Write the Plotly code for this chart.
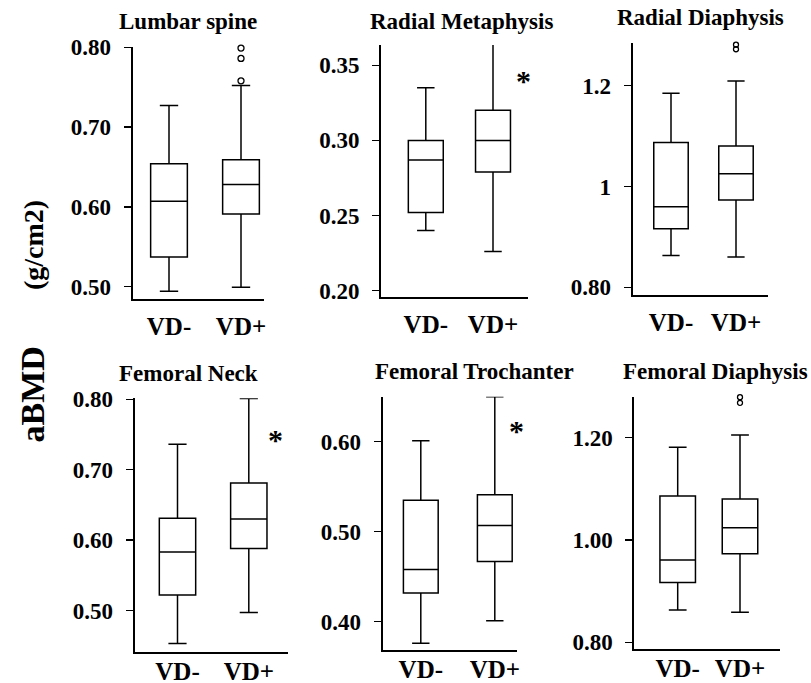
import plotly.graph_objects as go

W, H = 811, 683

# ---------------- data ----------------
categories = ["VD-", "VD+"]
titles = ["Lumbar spine", "Radial Metaphysis", "Radial Diaphysis",
          "Femoral Neck", "Femoral Trochanter", "Femoral Diaphysis"]

# box statistics: [lower whisker, Q1, median, Q3, upper whisker]
lumbar_vd_neg = [0.494, 0.537, 0.607, 0.654, 0.727]
lumbar_vd_pos = [0.499, 0.591, 0.628, 0.659, 0.752]
lumbar_outliers_pos = [0.758, 0.786, 0.799]

radmeta_vd_neg = [0.240, 0.252, 0.287, 0.300, 0.335]
radmeta_vd_pos = [0.226, 0.279, 0.300, 0.320, 0.364]
radmeta_outliers_pos = []

raddia_vd_neg = [0.863, 0.916, 0.960, 1.087, 1.185]
raddia_vd_pos = [0.860, 0.973, 1.025, 1.080, 1.209]
raddia_outliers_pos = [1.272, 1.281]

femneck_vd_neg = [0.453, 0.522, 0.583, 0.631, 0.736]
femneck_vd_pos = [0.497, 0.588, 0.630, 0.681, 0.801]
femneck_outliers_pos = []

femtroch_vd_neg = [0.376, 0.432, 0.458, 0.535, 0.601]
femtroch_vd_pos = [0.401, 0.467, 0.507, 0.541, 0.650]
femtroch_outliers_pos = []

femdia_vd_neg = [0.863, 0.917, 0.961, 1.086, 1.181]
femdia_vd_pos = [0.859, 0.973, 1.024, 1.080, 1.205]
femdia_outliers_pos = [1.268, 1.279]

ytick_vals = [
    [0.50, 0.60, 0.70, 0.80],
    [0.20, 0.25, 0.30, 0.35],
    [0.80, 1.00, 1.20],
    [0.50, 0.60, 0.70, 0.80],
    [0.40, 0.50, 0.60],
    [0.80, 1.00, 1.20],
]
ytick_text = [
    ["0.50", "0.60", "0.70", "0.80"],
    ["0.20", "0.25", "0.30", "0.35"],
    ["0.80", "1", "1.2"],
    ["0.50", "0.60", "0.70", "0.80"],
    ["0.40", "0.50", "0.60"],
    ["0.80", "1.00", "1.20"],
]
significant = [False, True, False, True, True, False]

stats_neg = [lumbar_vd_neg, radmeta_vd_neg, raddia_vd_neg, femneck_vd_neg, femtroch_vd_neg, femdia_vd_neg]
stats_pos = [lumbar_vd_pos, radmeta_vd_pos, raddia_vd_pos, femneck_vd_pos, femtroch_vd_pos, femdia_vd_pos]
outliers_pos = [lumbar_outliers_pos, radmeta_outliers_pos, raddia_outliers_pos,
                femneck_outliers_pos, femtroch_outliers_pos, femdia_outliers_pos]

xpos = list(range(len(categories)))

# ---------------- layout geometry (pixels) ----------------
geom = [
    dict(left=132.7, right=264.0, top=46.5, bottom=299.3, c0=169.0, c1=241.0, yr=[0.484, 0.801], bw=0.51,
         title=(187.7, 21.7), star=None, osize=6, xso=4),
    dict(left=381.0, right=528.0, top=45.0, bottom=296.7, c0=425.8, c1=493.0, yr=[0.196, 0.3635], bw=0.52,
         title=(461.0, 21.7), star=(523.3, 80.0), osize=6, xso=4),
    dict(left=632.7, right=767.7, top=42.7, bottom=294.7, c0=671.0, c1=736.0, yr=[0.7855, 1.285], bw=0.53,
         title=(700.0, 17.0), star=None, osize=5, xso=4),
    dict(left=134.7, right=288.3, top=398.3, bottom=652.0, c0=177.5, c1=248.8, yr=[0.441, 0.8014], bw=0.51,
         title=(188.0, 373.3), star=(275.0, 439.0), osize=6, xso=-4),
    dict(left=382.7, right=516.7, top=396.7, bottom=650.0, c0=420.8, c1=494.8, yr=[0.3686, 0.65], bw=0.47,
         title=(474.0, 371.7), star=(516.7, 430.0), osize=6, xso=-4),
    dict(left=634.3, right=780.0, top=396.7, bottom=649.0, c0=677.7, c1=740.0, yr=[0.787, 1.280], bw=0.57,
         title=(715.0, 371.7), star=None, osize=5, xso=-4),
]

FONT = "Liberation Serif, Times New Roman, serif"

def px(x):
    return x / W

def py(y):
    return 1 - y / H

fig = go.Figure()
layout = dict(
    template="none",
    width=W, height=H, autosize=False,
    margin=dict(l=0, r=0, t=0, b=0, pad=0, autoexpand=False),
    paper_bgcolor="white", plot_bgcolor="white",
    showlegend=False,
    font=dict(family=FONT, color="black"),
)
annotations = []

for i in range(6):
    g = geom[i]
    ax = "" if i == 0 else str(i + 1)
    xref, yref = "x" + ax, "y" + ax
    neg, pos = stats_neg[i], stats_pos[i]
    fig.add_trace(go.Box(
        x=xpos,
        lowerfence=[neg[0], pos[0]],
        q1=[neg[1], pos[1]],
        median=[neg[2], pos[2]],
        q3=[neg[3], pos[3]],
        upperfence=[neg[4], pos[4]],
        width=g["bw"],
        whiskerwidth=0.5,
        fillcolor="white",
        line=dict(color="black", width=1.5),
        boxpoints=False,
        hoverinfo="skip",
        xaxis=xref, yaxis=yref,
    ))
    if outliers_pos[i]:
        fig.add_trace(go.Scatter(
            x=[xpos[1]] * len(outliers_pos[i]),
            y=outliers_pos[i],
            mode="markers",
            marker=dict(symbol="circle-open", size=g["osize"], color="black", line=dict(width=1.3)),
            cliponaxis=False,
            hoverinfo="skip",
            xaxis=xref, yaxis=yref,
        ))
    span = g["c1"] - g["c0"]
    xr = [(g["left"] - g["c0"]) / span, (g["right"] - g["c0"]) / span]
    layout["xaxis" + ax] = dict(
        domain=[px(g["left"]), px(g["right"])],
        anchor=yref, type="linear", range=xr, automargin=False,
        tickvals=xpos, ticktext=categories,
        showline=True, linecolor="black", linewidth=2,
        ticks="", showgrid=False, zeroline=False,
        tickfont=dict(family=FONT, size=25, color="black", weight="bold"),
        ticklabelstandoff=g["xso"],
    )
    layout["yaxis" + ax] = dict(
        domain=[py(g["bottom"]), py(g["top"])],
        anchor=xref, range=g["yr"], automargin=False,
        tickvals=ytick_vals[i], ticktext=ytick_text[i],
        showline=True, linecolor="black", linewidth=2,
        ticks="outside", ticklen=7, tickwidth=1.5, tickcolor="black",
        showgrid=False, zeroline=False,
        tickfont=dict(family=FONT, size=23, color="black", weight="bold"),
        ticklabelstandoff=8,
    )
    tx, ty = g["title"]
    annotations.append(dict(
        text=titles[i], x=px(tx), y=py(ty), xref="paper", yref="paper",
        xanchor="center", yanchor="middle", showarrow=False,
        font=dict(family=FONT, size=23, color="black", weight="bold"),
    ))
    if significant[i] and g["star"]:
        sx, sy = g["star"]
        annotations.append(dict(
            text="*", x=px(sx), y=py(sy), xref="paper", yref="paper",
            xanchor="center", yanchor="middle", showarrow=False,
            font=dict(family=FONT, size=30, color="black", weight="bold"),
        ))

annotations.append(dict(
    text="(g/cm2)", x=px(33), y=py(245), xref="paper", yref="paper", textangle=-90,
    xanchor="center", yanchor="middle", showarrow=False,
    font=dict(family=FONT, size=28, color="black", weight="bold"),
))
annotations.append(dict(
    text="aBMD", x=px(32), y=py(394.5), xref="paper", yref="paper", textangle=-90,
    xanchor="center", yanchor="middle", showarrow=False,
    font=dict(family=FONT, size=34, color="black", weight="bold"),
))
layout["annotations"] = annotations
fig.update_layout(**layout)
fig.write_html(
    "out.html",
    config={"displayModeBar": False, "staticPlot": True},
    post_script="document.body.style.margin='0';document.body.style.overflow='hidden';",
)
